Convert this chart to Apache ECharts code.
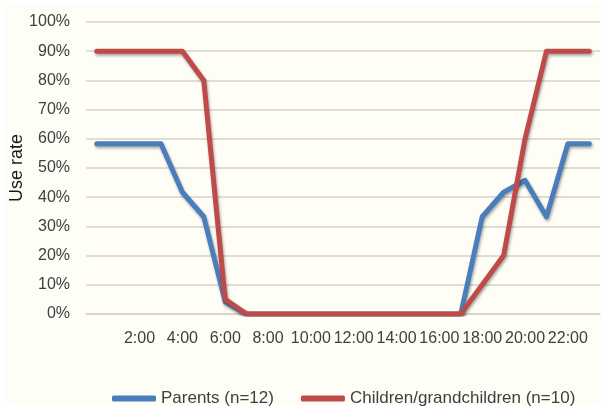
<!DOCTYPE html>
<html>
<head>
<meta charset="utf-8">
<script src="https://cdn.jsdelivr.net/npm/echarts@6/dist/echarts.min.js"></script>
<style>
  html, body { margin: 0; padding: 0; background: #ffffff; }
  #wrap { position: relative; width: 606px; height: 407px; background: #ffffff; overflow: hidden; }
  #bg { position: absolute; left: 4px; top: 5px; width: 598px; height: 400px; background: #fefdf6; }
  #chart { position: absolute; left: 0; top: 0; width: 606px; height: 407px; }
</style>
</head>
<body>
<div id="wrap"><div id="bg"></div><div id="chart"></div></div>
<script>
// Hour of day categories (one per hour)
const hours = ['0:00','1:00','2:00','3:00','4:00','5:00','6:00','7:00','8:00','9:00','10:00','11:00',
               '12:00','13:00','14:00','15:00','16:00','17:00','18:00','19:00','20:00','21:00','22:00','23:00'];

// Use rate (%) per hour
const parents = [58.3, 58.3, 58.3, 58.3, 41.7, 33.3, 4.2, 0, 0, 0, 0, 0,
                 0, 0, 0, 0, 0, 0, 33.3, 41.7, 45.8, 33.3, 58.3, 58.3];
const children = [90, 90, 90, 90, 90, 80, 5, 0, 0, 0, 0, 0,
                  0, 0, 0, 0, 0, 0, 10, 20, 60, 90, 90, 90];

const seriesNames = ['Parents (n=12)', 'Children/grandchildren (n=10)'];
const yTitle = 'Use rate';

const FONT = 'Liberation Sans';
const gridColor = '#d6d2ca';

const chart = echarts.init(document.getElementById('chart'), null, { renderer: 'canvas' });

const lineStyleBase = {
  width: 5,
  cap: 'round',
  join: 'round',
  shadowColor: 'rgba(0,0,0,0.35)',
  shadowBlur: 3,
  shadowOffsetX: 1,
  shadowOffsetY: 2
};

chart.setOption({
  backgroundColor: 'transparent',
  animation: false,
  textStyle: { fontFamily: FONT },
  grid: { left: 86, right: 6, top: 22, bottom: 93, containLabel: false, outerBoundsMode: 'none' },
  legend: {
    left: 112,
    top: 390,
    itemWidth: 44,
    itemHeight: 6,
    itemGap: 27,
    icon: 'roundRect',
    padding: 0,
    textStyle: { fontFamily: FONT, fontSize: 17, color: '#404040' },
    data: seriesNames
  },
  xAxis: {
    type: 'category',
    data: hours,
    boundaryGap: true,
    axisLine: { show: true, lineStyle: { color: gridColor, width: 1.5 } },
    axisTick: { show: false },
    axisLabel: {
      interval: (idx) => idx > 0 && idx % 2 === 0,
      margin: 17,
      fontFamily: FONT,
      fontSize: 16,
      color: '#404040'
    },
    splitLine: { show: false }
  },
  yAxis: {
    type: 'value',
    min: 0,
    max: 100,
    interval: 10,
    name: yTitle,
    nameLocation: 'middle',
    nameRotate: 90,
    nameGap: 60,
    nameMoveOverlap: false,
    nameTextStyle: { fontFamily: FONT, fontSize: 18, color: '#1a1a1a' },
    axisLine: { show: false },
    axisTick: { show: false },
    axisLabel: {
      formatter: '{value}%',
      margin: 16,
      fontFamily: FONT,
      fontSize: 16,
      color: '#404040'
    },
    splitLine: { show: true, lineStyle: { color: gridColor, width: 1.5 } }
  },
  series: [
    {
      name: seriesNames[0],
      type: 'line',
      data: parents,
      symbol: 'none',
      color: '#4a7ebb',
      lineStyle: Object.assign({ color: '#4a7ebb' }, lineStyleBase),
      z: 3
    },
    {
      name: seriesNames[1],
      type: 'line',
      data: children,
      symbol: 'none',
      color: '#be4b48',
      lineStyle: Object.assign({ color: '#be4b48' }, lineStyleBase),
      z: 4
    }
  ]
});
</script>
</body>
</html>
